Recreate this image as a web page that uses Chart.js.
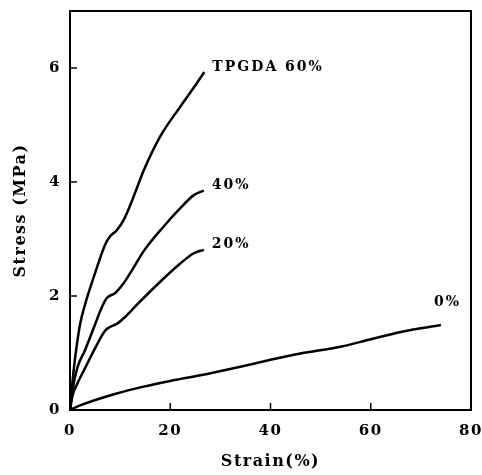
<!DOCTYPE html>
<html>
<head>
<meta charset="utf-8">
<script src="https://cdn.jsdelivr.net/npm/chart.js@4"></script>
<style>
  html, body { margin: 0; padding: 0; background: #fff; }
  #wrap { width: 482px; height: 475px; }
</style>
</head>
<body>
<div id="wrap"><canvas id="stressChart" width="482" height="475"></canvas></div>
<script>
// strain (%) / stress (MPa)
const strain60 = [0, 0.5, 1, 2, 3, 5, 7, 8, 9.3, 10.8, 12.5, 14.7, 18, 22, 24.8, 26.8];
const stress60 = [0, 0.5, 0.9, 1.5, 1.85, 2.4, 2.9, 3.05, 3.15, 3.35, 3.7, 4.2, 4.8, 5.32, 5.67, 5.93];

const strain40 = [0, 0.5, 1.5, 3, 5, 6.1, 7.3, 9, 10.5, 12, 14.8, 18.7, 22, 24.7, 26.7];
const stress40 = [0, 0.35, 0.75, 1.05, 1.5, 1.75, 1.96, 2.05, 2.2, 2.4, 2.8, 3.22, 3.54, 3.77, 3.85];

const strain20 = [0, 0.5, 1.5, 2.8, 5.1, 7.1, 9.5, 11.1, 13.5, 18, 22, 24.7, 26.7];
const stress20 = [0, 0.25, 0.47, 0.7, 1.1, 1.4, 1.52, 1.64, 1.86, 2.25, 2.57, 2.75, 2.81];

const strain0 = [0, 2, 9.3, 14.7, 20, 26, 34, 40, 46, 54, 60, 66, 74];
const stress0 = [0, 0.08, 0.29, 0.41, 0.51, 0.61, 0.76, 0.88, 0.99, 1.11, 1.24, 1.37, 1.49];

const seriesNames = ["TPGDA 60%", "40%", "20%", "0%"];
const xTicks = [0, 20, 40, 60, 80];
const yTicks = [0, 2, 4, 6];

const FONT = "'DejaVu Serif', serif";

const toPoints = (xs, ys) => xs.map((x, i) => ({ x, y: ys[i] }));

// wider letter spacing like the typewriter-ish original
const spacingPlugin = {
  id: "spacing",
  beforeLayout(chart) {
    chart.ctx.letterSpacing = "1.5px";
  },
  beforeDraw(chart) {
    chart.ctx.letterSpacing = "1.5px";
  },
};

// frame, inward ticks and curve labels
const framePlugin = {
  id: "frame",
  afterDraw(chart) {
    const { ctx, chartArea: a, scales } = chart;
    ctx.save();
    ctx.strokeStyle = "#000";
    ctx.lineWidth = 2;
    ctx.strokeRect(a.left, a.top, a.right - a.left, a.bottom - a.top);
    ctx.lineWidth = 1.5;
    xTicks.forEach((v) => {
      const px = scales.x.getPixelForValue(v);
      ctx.beginPath();
      ctx.moveTo(px, a.bottom);
      ctx.lineTo(px, a.bottom - 7);
      ctx.stroke();
    });
    yTicks.forEach((v) => {
      const py = scales.y.getPixelForValue(v);
      ctx.beginPath();
      ctx.moveTo(a.left, py);
      ctx.lineTo(a.left + 7, py);
      ctx.stroke();
    });
    ctx.fillStyle = "#000";
    ctx.font = "bold 14px " + FONT;
    ctx.letterSpacing = "2px";
    ctx.textBaseline = "middle";
    ctx.textAlign = "left";
    chart.data.datasets.forEach((ds) => {
      const last = ds.data[ds.data.length - 1];
      const px = scales.x.getPixelForValue(last.x);
      const py = scales.y.getPixelForValue(last.y);
      if (ds.label === "0%") {
        ctx.fillText(ds.label, px - 7, py - 23);
      } else {
        ctx.fillText(ds.label, px + 8, py - 5);
      }
    });
    ctx.restore();
  },
};

const lines = [
  toPoints(strain60, stress60),
  toPoints(strain40, stress40),
  toPoints(strain20, stress20),
  toPoints(strain0, stress0),
];

new Chart(document.getElementById("stressChart"), {
  type: "line",
  data: {
    datasets: lines.map((pts, i) => ({
      label: seriesNames[i],
      data: pts,
      borderColor: "#000",
      borderWidth: 2.5,
      pointRadius: 0,
      fill: false,
      cubicInterpolationMode: "monotone",
    })),
  },
  options: {
    responsive: false,
    animation: false,
    layout: { padding: { top: 11, right: 11, left: 7, bottom: 0 } },
    plugins: { legend: { display: false }, tooltip: { enabled: false } },
    scales: {
      x: {
        type: "linear",
        min: 0,
        max: 80,
        afterBuildTicks(scale) {
          scale.ticks = xTicks.map((v) => ({ value: v }));
        },
        afterFit(scale) {
          scale.height = 65;
          scale.paddingLeft = 0;
          scale.paddingRight = 0;
        },
        grid: { display: false },
        border: { display: false },
        ticks: {
          color: "#000",
          padding: 4,
          maxRotation: 0,
          font: { family: FONT, size: 15, weight: "bold" },
        },
        title: {
          display: true,
          text: "Strain(%)",
          color: "#000",
          padding: { top: 15 },
          font: { family: FONT, size: 16, weight: "bold" },
        },
      },
      y: {
        type: "linear",
        min: 0,
        max: 7,
        afterBuildTicks(scale) {
          scale.ticks = yTicks.map((v) => ({ value: v }));
        },
        afterFit(scale) {
          scale.width = 63;
          scale.paddingTop = 0;
          scale.paddingBottom = 0;
        },
        grid: { display: false },
        border: { display: false },
        ticks: {
          color: "#000",
          padding: 1,
          font: { family: FONT, size: 15, weight: "bold" },
        },
        title: {
          display: true,
          text: "Stress (MPa)",
          color: "#000",
          padding: { bottom: 4 },
          font: { family: FONT, size: 16, weight: "bold" },
        },
      },
    },
  },
  plugins: [spacingPlugin, framePlugin],
});
</script>
</body>
</html>
